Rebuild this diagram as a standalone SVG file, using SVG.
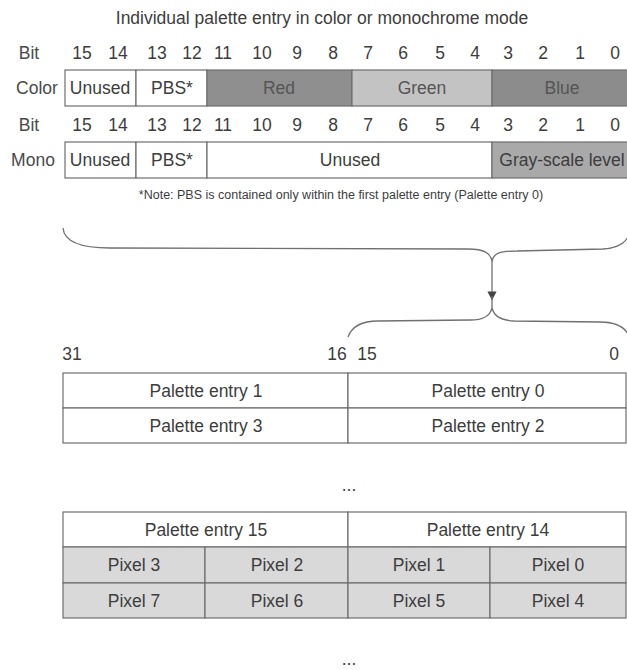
<svg xmlns="http://www.w3.org/2000/svg" width="627" height="670" viewBox="0 0 627 670">
<defs>
<style>
text{font-family:"Liberation Sans",Arial,Helvetica,sans-serif;font-size:17.5px;fill:#3d3d3d;text-anchor:middle}
.lbl{fill:#4a4a4a}
.note{font-size:12.5px}
.box{stroke:#6e6e6e;stroke-width:1.2;fill:#ffffff}
.red{fill:#8f8f8f}
.green{fill:#c3c3c3}
.blue{fill:#8c8c8c}
.gray{fill:#a9a9a9}
.pix{fill:#d9d9d9}
.dim{fill:#555555}
.brace{fill:none;stroke:#707070;stroke-width:1.3}
</style>
<marker id="arr" viewBox="0 0 10 10" refX="5" refY="5" markerWidth="7" markerHeight="9" orient="auto">
<path d="M0,0 L10,5 L0,10 Z" fill="#444444"/>
</marker>
</defs>
<rect width="627" height="670" fill="#ffffff"/>

<g id="title">
<text x="322" y="24">Individual palette entry in color or monochrome mode</text>
</g>

<g id="bits-color">
<text class="lbl" x="29" y="59">Bit</text>
<text x="82" y="59">15</text><text x="118" y="59">14</text><text x="157" y="59">13</text><text x="192" y="59">12</text>
<text x="223" y="59">11</text><text x="262" y="59">10</text><text x="297" y="59">9</text><text x="333" y="59">8</text>
<text x="368" y="59">7</text><text x="403" y="59">6</text><text x="440" y="59">5</text><text x="475" y="59">4</text>
<text x="508" y="59">3</text><text x="543" y="59">2</text><text x="580" y="59">1</text><text x="615" y="59">0</text>
</g>

<g id="color-row">
<text class="lbl" x="37" y="94">Color</text>
<rect class="box" x="65" y="70" width="71" height="36"/>
<rect class="box" x="136" y="70" width="71" height="36"/>
<rect class="box red" x="207" y="70" width="145" height="36"/>
<rect class="box green" x="352" y="70" width="140" height="36"/>
<rect class="box blue" x="492" y="70" width="140" height="36"/>
<text x="100" y="94">Unused</text>
<text x="172" y="94">PBS*</text>
<text class="dim" x="279" y="94">Red</text>
<text class="dim" x="422" y="94">Green</text>
<text class="dim" x="562" y="94">Blue</text>
</g>

<g id="bits-mono">
<text class="lbl" x="29" y="131">Bit</text>
<text x="82" y="131">15</text><text x="118" y="131">14</text><text x="157" y="131">13</text><text x="192" y="131">12</text>
<text x="223" y="131">11</text><text x="262" y="131">10</text><text x="297" y="131">9</text><text x="333" y="131">8</text>
<text x="368" y="131">7</text><text x="403" y="131">6</text><text x="440" y="131">5</text><text x="475" y="131">4</text>
<text x="508" y="131">3</text><text x="543" y="131">2</text><text x="580" y="131">1</text><text x="615" y="131">0</text>
</g>

<g id="mono-row">
<text class="lbl" x="33" y="166">Mono</text>
<rect class="box" x="65" y="142" width="71" height="36"/>
<rect class="box" x="136" y="142" width="71" height="36"/>
<rect class="box" x="207" y="142" width="285" height="36"/>
<rect class="box gray" x="492" y="142" width="140" height="36"/>
<text x="100" y="166">Unused</text>
<text x="172" y="166">PBS*</text>
<text x="350" y="166">Unused</text>
<text x="562" y="166">Gray-scale level</text>
</g>

<g id="note">
<text class="note" x="341" y="199">*Note: PBS is contained only within the first palette entry (Palette entry 0)</text>
</g>

<g id="connectors">
<path class="brace" d="M63,228 C64,240 78,248 110,248 L468,249 C484,249 491,253 492,262 C493,253 500,251 517,251 L603,249 C617,248 624,244 628,237"/>
<path class="brace" d="M492,262 L492,296" marker-end="url(#arr)"/>
<path class="brace" d="M492,296 L492,308"/>
<path class="brace" d="M348,337 C352,326 362,321 378,321 L470,320 C484,320 490,316 492,308 C494,316 500,320 514,321 L600,322 C615,322 624,327 628,334"/>
</g>

<g id="bit-labels">
<text x="72" y="360">31</text>
<text x="337" y="360">16</text>
<text x="367" y="360">15</text>
<text x="614" y="360">0</text>
</g>

<g id="word-table">
<rect class="box" x="63" y="373" width="285" height="35"/>
<rect class="box" x="348" y="373" width="278" height="35"/>
<rect class="box" x="63" y="408" width="285" height="35"/>
<rect class="box" x="348" y="408" width="278" height="35"/>
<text x="206" y="397">Palette entry 1</text>
<text x="488" y="397">Palette entry 0</text>
<text x="206" y="432">Palette entry 3</text>
<text x="488" y="432">Palette entry 2</text>
</g>

<g id="ellipsis-1"><text x="349" y="491">...</text></g>

<g id="pixel-table">
<rect class="box" x="63" y="512" width="285" height="35"/>
<rect class="box" x="348" y="512" width="278" height="35"/>
<rect class="box pix" x="63" y="547" width="142" height="36"/>
<rect class="box pix" x="205" y="547" width="143" height="36"/>
<rect class="box pix" x="348" y="547" width="142" height="36"/>
<rect class="box pix" x="490" y="547" width="136" height="36"/>
<rect class="box pix" x="63" y="583" width="142" height="35"/>
<rect class="box pix" x="205" y="583" width="143" height="35"/>
<rect class="box pix" x="348" y="583" width="142" height="35"/>
<rect class="box pix" x="490" y="583" width="136" height="35"/>
<text x="206" y="536">Palette entry 15</text>
<text x="488" y="536">Palette entry 14</text>
<text x="134" y="571">Pixel 3</text>
<text x="277" y="571">Pixel 2</text>
<text x="419" y="571">Pixel 1</text>
<text x="558" y="571">Pixel 0</text>
<text x="134" y="607">Pixel 7</text>
<text x="277" y="607">Pixel 6</text>
<text x="419" y="607">Pixel 5</text>
<text x="558" y="607">Pixel 4</text>
</g>

<g id="ellipsis-2"><text x="349" y="665">...</text></g>
</svg>
